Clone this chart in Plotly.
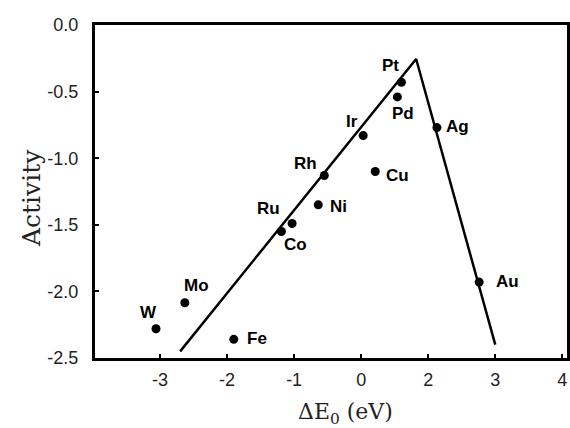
import plotly.graph_objects as go

# metals: positions on the (evenly spaced) x axis, activity on y
metals = ["Pt", "Pd", "Ir", "Ag", "Rh", "Cu", "Ni", "Ru", "Co", "Mo", "W", "Fe", "Au"]
x_pos = [0.60, 0.54, 0.03, 1.13, -0.55, 0.21, -0.64, -1.03, -1.19, -2.63, -3.06, -1.90, 1.76]
activity = [-0.43, -0.54, -0.83, -0.77, -1.13, -1.10, -1.35, -1.49, -1.55, -2.085, -2.28, -2.36, -1.93]

# volcano lines
volcano_x = [-2.70, 0.82, 2.00]
volcano_y = [-2.45, -0.255, -2.40]

tick_pos = [-3, -2, -1, 0, 1, 2, 3]
tick_text = ["-3", "-2", "-1", "0", "2", "3", "4"]
y_ticks = [0.0, -0.5, -1.0, -1.5, -2.0, -2.5]
y_text = ["0.0", "-0.5", "-1.0", "-1.5", "-2.0", "-2.5"]

# label offsets in pixels (dx right, dy down)
offsets = {
    "Pt": (-11, -17), "Pd": (6, 17), "Ir": (-11, -14), "Ag": (21, -1),
    "Rh": (-19, -12), "Cu": (22, 4), "Ni": (20, 2), "Ru": (-24, -15),
    "Co": (14, 13), "Mo": (12, -17), "W": (-8, -16), "Fe": (23, -1),
    "Au": (28, -1),
}

fig = go.Figure()
fig.add_trace(go.Scatter(x=volcano_x, y=volcano_y, mode="lines",
                         line=dict(color="black", width=2.5), hoverinfo="skip"))
fig.add_trace(go.Scatter(x=x_pos, y=activity, mode="markers", text=metals,
                         marker=dict(color="black", size=9)))

for m, x, y in zip(metals, x_pos, activity):
    dx, dy = offsets[m]
    fig.add_annotation(x=x, y=y, text="<b>%s</b>" % m, showarrow=False,
                       xshift=dx, yshift=-dy,
                       font=dict(family="Liberation Sans, Arial", size=17, color="black"))

# axis titles (placed by hand, the x title sits right of centre)
fig.add_annotation(text="ΔE<sub>0</sub> (eV)", xref="paper", yref="paper",
                   x=(345 - 95) / 472, y=-(413 - 358) / 333, showarrow=False,
                   xanchor="center", yanchor="middle",
                   font=dict(family="DejaVu Serif", size=22, color="#222"))
fig.add_annotation(text="Activity", xref="paper", yref="paper", textangle=-90,
                   x=(32 - 95) / 472, y=1 - (198 - 25) / 333, showarrow=False,
                   xanchor="center", yanchor="middle",
                   font=dict(family="DejaVu Serif", size=25, color="#222"))

axis_common = dict(showline=True, linecolor="black", linewidth=3, mirror=True,
                   showgrid=False, zeroline=False, ticks="inside", ticklen=4,
                   tickwidth=2, tickcolor="black", automargin=False,
                   tickfont=dict(family="Liberation Sans, Arial", size=18, color="#222"))

fig.update_layout(
    width=570, height=428,
    margin=dict(l=95, r=3, t=25, b=70),
    plot_bgcolor="white", paper_bgcolor="white",
    showlegend=False,
    xaxis=dict(range=[-3.97, 3.07], tickvals=tick_pos, ticktext=tick_text,
               ticklabelstandoff=3, **axis_common),
    yaxis=dict(range=[-2.5, 0.0], tickvals=y_ticks, ticktext=[t + "  " for t in y_text],
               **axis_common),
)

fig.write_html("out.html", config={"displayModeBar": False},
               post_script="document.body.style.margin='0';")
